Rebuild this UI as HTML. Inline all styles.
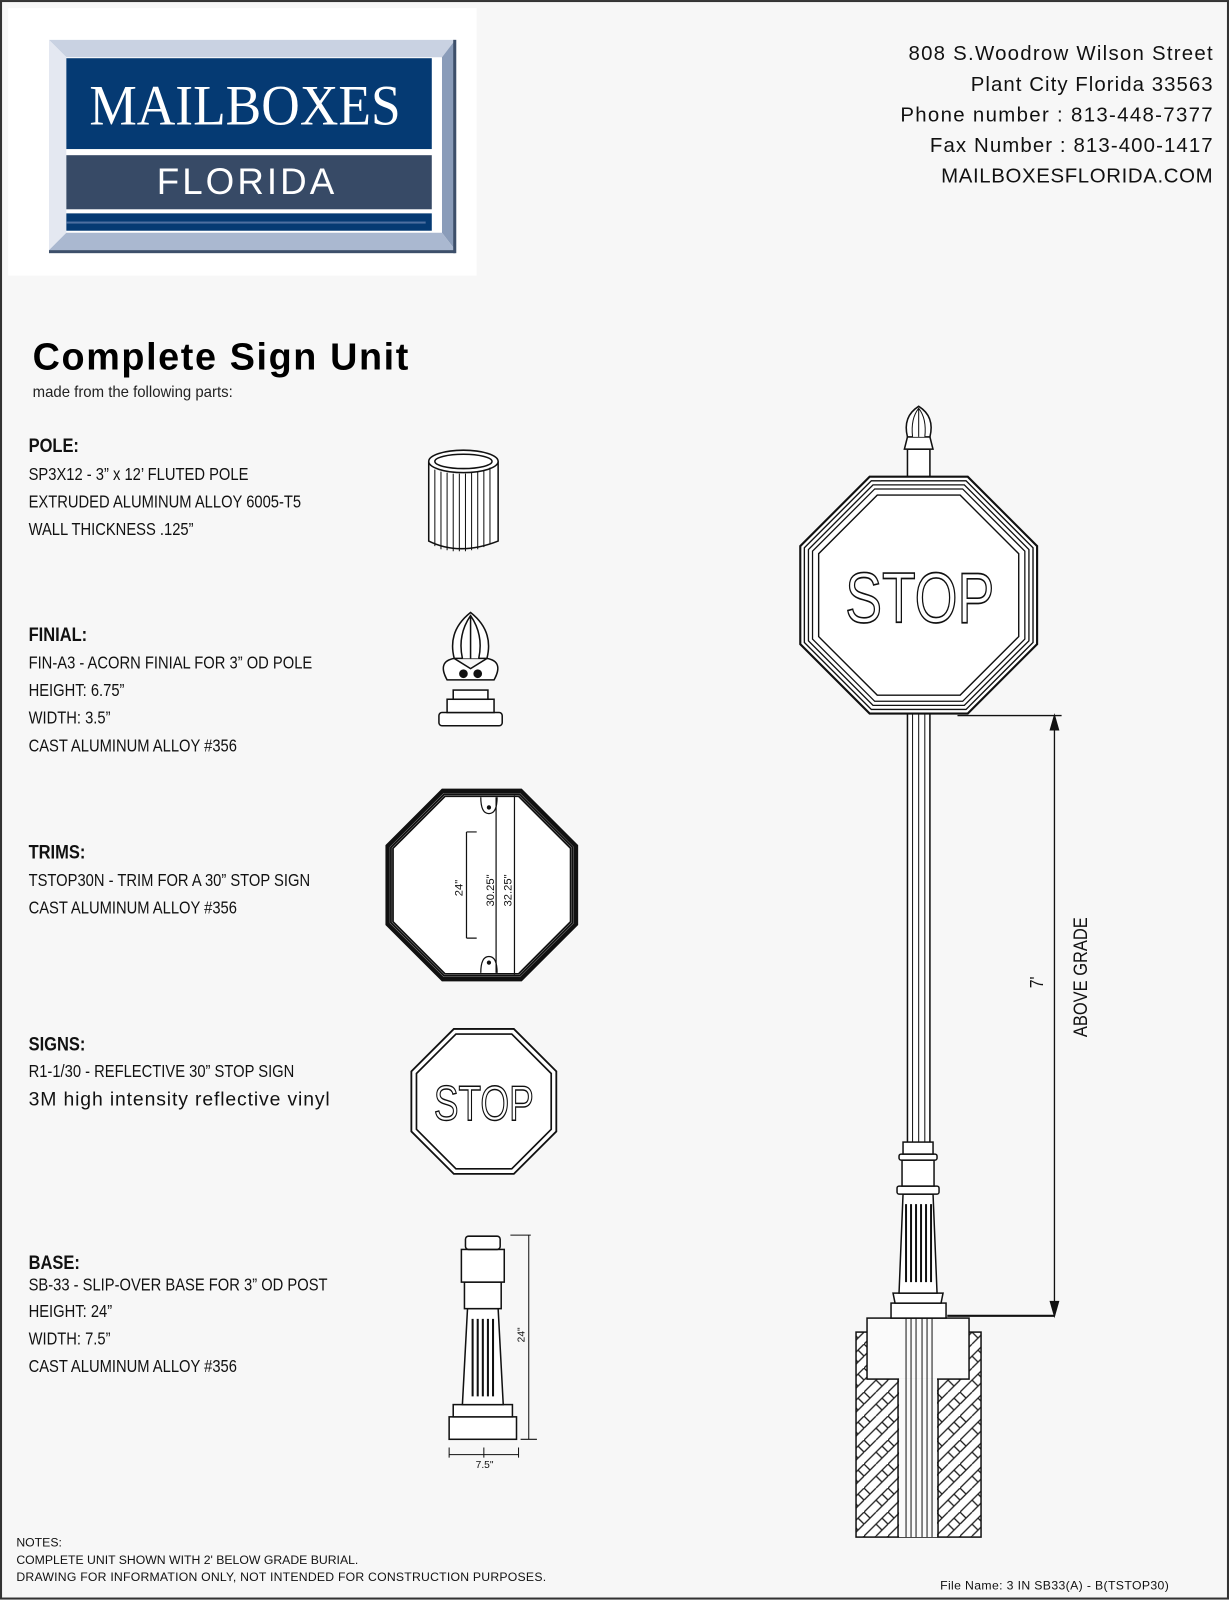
<!DOCTYPE html>
<html><head><meta charset="utf-8"><style>
body{margin:0;}
svg{display:block;}
</style></head><body>
<svg width="1229" height="1600" viewBox="0 0 1204 1567.4" xmlns="http://www.w3.org/2000/svg" font-family="Liberation Sans, sans-serif">
<defs>
<polygon id="oct" points="-0.4142,-1 0.4142,-1 1,-0.4142 1,0.4142 0.4142,1 -0.4142,1 -1,0.4142 -1,-0.4142"/>
<pattern id="hatch" width="24" height="24" patternUnits="userSpaceOnUse">
<rect width="24" height="24" fill="#fff"/>
<path d="M0 12 L12 0 M12 24 L24 12 M0 24 L12 12 M12 12 L24 0" stroke="#222" stroke-width="1.3"/>
<path d="M0 0 L6 6 M12 12 L18 18 M18 6 L24 12" stroke="#222" stroke-width="1.3"/>
</pattern>
</defs>
<rect x="0" y="0" width="1204" height="1568" fill="#f7f7f7"/>
<rect x="1" y="1" width="1202" height="1565" fill="none" stroke="#333" stroke-width="2"/>
<!-- logo -->
<rect x="8" y="8" width="459" height="262" fill="#fff"/>
<polygon points="48,39 446,39 433,56 65,56" fill="#c9d2e2"/>
<polygon points="48,39 65,56 65,228 48,245" fill="#e4e8f1"/>
<polygon points="446,39 446,245 433,228 433,56" fill="#8a9cb9"/>
<polygon points="48,245 446,245 433,228 65,228" fill="#aab8d0"/>
<rect x="48" y="245" width="398" height="3" fill="#3d4f6a"/>
<rect x="444" y="39" width="3" height="209" fill="#3d4f6a"/>
<rect x="65" y="57" width="358" height="89" fill="#053a73"/>
<rect x="65" y="152" width="358" height="53" fill="#374a66"/>
<rect x="65" y="209" width="358" height="17" fill="#053a73"/>
<rect x="65" y="217" width="352" height="2" fill="#4d6fa0"/>
<text x="240" y="122" font-size="56" fill="#fff" text-anchor="middle" style="font-family:'Liberation Serif',serif" textLength="305" lengthAdjust="spacingAndGlyphs">MAILBOXES</text>
<text x="242" y="190" font-size="36" fill="#fff" text-anchor="middle" letter-spacing="3" style="font-family:'Liberation Sans',sans-serif">FLORIDA</text>
<!-- address -->
<g font-size="20" fill="#111" text-anchor="end">
<text x="1188" y="59" textLength="298">808 S.Woodrow Wilson Street</text>
<text x="1188" y="89" textLength="237">Plant City Florida 33563</text>
<text x="1188" y="119" textLength="306">Phone number : 813-448-7377</text>
<text x="1188" y="149" textLength="277">Fax Number : 813-400-1417</text>
<text x="1188" y="179" textLength="266">MAILBOXESFLORIDA.COM</text>
</g>
<text x="32" y="362" font-size="37" font-weight="bold" fill="#000" textLength="368">Complete Sign Unit</text>
<text x="32" y="389" font-size="15" fill="#222" textLength="196" lengthAdjust="spacingAndGlyphs">made from the following parts:</text>
<g fill="#111" font-size="17" transform="translate(28,0) scale(0.85,1)">
<text x="0" y="443" font-weight="bold" font-size="19">POLE:</text>
<text x="0" y="470">SP3X12 - 3” x 12’ FLUTED POLE</text>
<text x="0" y="497">EXTRUDED ALUMINUM ALLOY 6005-T5</text>
<text x="0" y="524">WALL THICKNESS .125”</text>
<text x="0" y="628" font-weight="bold" font-size="19">FINIAL:</text>
<text x="0" y="655">FIN-A3 - ACORN FINIAL FOR 3” OD POLE</text>
<text x="0" y="682">HEIGHT: 6.75”</text>
<text x="0" y="709">WIDTH: 3.5”</text>
<text x="0" y="736">CAST ALUMINUM ALLOY #356</text>
<text x="0" y="841" font-weight="bold" font-size="19">TRIMS:</text>
<text x="0" y="868">TSTOP30N - TRIM FOR A 30” STOP SIGN</text>
<text x="0" y="895">CAST ALUMINUM ALLOY #356</text>
<text x="0" y="1029" font-weight="bold" font-size="19">SIGNS:</text>
<text x="0" y="1055">R1-1/30 - REFLECTIVE 30” STOP SIGN</text>
<text x="0" y="1264">SB-33 - SLIP-OVER BASE FOR  3” OD POST</text>
<text x="0" y="1243" font-weight="bold" font-size="19">BASE:</text>
<text x="0" y="1290">HEIGHT: 24”</text>
<text x="0" y="1317">WIDTH: 7.5”</text>
<text x="0" y="1344">CAST ALUMINUM ALLOY #356</text>
</g>
<text x="28" y="1083" font-size="19" fill="#111" textLength="295">3M high intensity reflective vinyl</text>
<g fill="#111" font-size="12">
<text x="16" y="1515">NOTES:</text>
<text x="16" y="1532">COMPLETE UNIT SHOWN WITH 2' BELOW GRADE BURIAL.</text>
<text x="16" y="1549" textLength="519">DRAWING FOR INFORMATION ONLY, NOT INTENDED FOR CONSTRUCTION PURPOSES.</text>
<text x="921" y="1557" textLength="224">File Name: 3 IN SB33(A) - B(TSTOP30)</text>
</g>
<!-- pole icon -->
<g stroke="#111" stroke-width="1.5" fill="#fff">
<path d="M420 452 L420 530 Q450 545 488 530 L488 452"/>
<ellipse cx="454" cy="452" rx="34" ry="11"/>
<ellipse cx="454" cy="452" rx="28" ry="7"/>
<path d="M426 460V535M432 462V538M438 463V539M444 464V540M450 464V540M456 464V540M462 463V539M468 462V538M474 461V536M480 458V533" stroke-width="1"/>
</g>
<!-- finial icon -->
<g stroke="#111" stroke-width="1.5" fill="#fff">
<rect x="430" y="698" width="62" height="13" rx="3"/>
<rect x="438" y="685" width="46" height="13"/>
<rect x="444" y="676" width="34" height="9"/>
<path d="M438 666 Q428 648 445 645 L461 655 L477 645 Q494 648 484 666 Z"/>
<path d="M445 645 Q438 618 461 600 Q484 618 477 645 Z"/>
<path d="M453 645 Q448 622 461 603 Q474 622 469 645 M461 603 V645"/>
<circle cx="454" cy="660" r="3.5" fill="#111"/><circle cx="468" cy="660" r="3.5" fill="#111"/>
</g>
<!-- trim -->
<g fill="none" stroke="#111">
<use href="#oct" transform="translate(472,867) scale(93)" stroke-width="0.03" fill="#fff"/>
<use href="#oct" transform="translate(472,867) scale(91)" stroke-width="0.02"/>
<use href="#oct" transform="translate(472,867) scale(89)" stroke-width="0.02"/>
<use href="#oct" transform="translate(472,867) scale(87)" stroke-width="0.02"/>
</g>
<g stroke="#111" stroke-width="1.2" fill="none">
<path d="M471 781 Q471 797 479 797 Q487 797 487 781"/>
<path d="M471 953 Q471 937 479 937 Q487 937 487 953"/>
<path d="M457 815H467M457 919H467M457 815V919M486 781V953M504 779V955"/>
<circle cx="479" cy="791" r="1.5" fill="#111"/><circle cx="479" cy="943" r="1.5" fill="#111"/>
</g>
<g font-size="11" fill="#111">
<text transform="translate(453,878) rotate(-90)">24"</text>
<text transform="translate(484,888) rotate(-90)">30.25"</text>
<text transform="translate(501,888) rotate(-90)">32.25"</text>
</g>
<!-- small stop -->
<g fill="none" stroke="#111">
<use href="#oct" transform="translate(474,1079) scale(71)" stroke-width="0.025" fill="#fff"/>
<use href="#oct" transform="translate(474,1079) scale(66)" stroke-width="0.025"/>
</g>
<text x="474" y="1097" font-size="48" text-anchor="middle" fill="#fff" stroke="#111" stroke-width="1.4" textLength="98" lengthAdjust="spacingAndGlyphs">STOP</text>
<!-- base icon -->
<g stroke="#111" stroke-width="1.5" fill="#fff">
<rect x="440" y="1388" width="66" height="22"/>
<rect x="444" y="1376" width="58" height="12"/>
<path d="M453 1376 L458 1282 H488 L493 1376 Z"/>
<rect x="455" y="1256" width="36" height="26"/>
<rect x="452" y="1224" width="42" height="32"/>
<rect x="456" y="1211" width="34" height="13" rx="3"/>
<path d="M463 1292V1368M468 1292V1368M473 1292V1368M478 1292V1368M483 1292V1368" stroke-width="2"/>
<path d="M500 1210H520M518 1210V1410M510 1410H526M474 1418V1428M440 1418V1428M508 1418V1428M440 1425H508" stroke-width="1" fill="none"/>
</g>
<text transform="translate(514,1315) rotate(-90)" font-size="10" fill="#111">24"</text>
<text x="466" y="1438" font-size="10" fill="#111">7.5"</text>
<!-- main assembly -->
<g stroke="#111" stroke-width="1.5" fill="#fff">
<rect x="889" y="440" width="22" height="30"/>
<path d="M886 440 L914 440 L911 428 L889 428 Z"/>
<path d="M889 428 Q884 408 900 398 Q916 408 911 428 Z"/>
<path d="M894 428 Q892 410 900 400 Q908 410 906 428 M900 400V428" stroke-width="1"/>
<rect x="889" y="696" width="22" height="440"/>
<path d="M894 696V1136M900 696V1136M906 696V1136" stroke-width="1"/>
</g>
<g fill="none" stroke="#111">
<use href="#oct" transform="translate(900,583) scale(116)" stroke-width="0.018" fill="#fff"/>
<use href="#oct" transform="translate(900,583) scale(112)" stroke-width="0.012"/>
<use href="#oct" transform="translate(900,583) scale(108)" stroke-width="0.012"/>
<use href="#oct" transform="translate(900,583) scale(104)" stroke-width="0.012"/>
<use href="#oct" transform="translate(900,583) scale(98)" stroke-width="0.014"/>
</g>
<text x="901" y="610" font-size="70" text-anchor="middle" fill="#fff" stroke="#111" stroke-width="1.6" textLength="146" lengthAdjust="spacingAndGlyphs">STOP</text>
<!-- main base (original-pixel coords) -->
<g transform="scale(0.9797)">
<g stroke="#111" stroke-width="1.5" fill="#fff">
<rect x="856" y="1332" width="125" height="205" fill="url(#hatch)"/>
<rect x="867" y="1318" width="102" height="61" fill="#fafafa"/>
<rect x="899" y="1378" width="38" height="159" fill="#fafafa" stroke="none"/>
<path d="M898 1379V1537M938 1379V1537"/>
<path d="M906 1318V1537M911 1318V1537M916 1318V1537M922 1318V1537M927 1318V1537M932 1318V1537" stroke-width="1"/>
<rect x="891" y="1303" width="55" height="15"/>
<path d="M895 1303 L893 1293 H943 L941 1303 Z"/>
<path d="M899 1293 L903 1194 H933 L937 1293 Z"/>
<path d="M906 1204V1282M911 1204V1282M916 1204V1282M921 1204V1282M926 1204V1282M931 1204V1282" stroke-width="2"/>
<rect x="897" y="1186" width="42" height="8" rx="2"/>
<rect x="902" y="1160" width="32" height="26"/>
<rect x="899" y="1154" width="38" height="6" rx="2"/>
<rect x="903" y="1142" width="30" height="12"/>
</g>
</g>
<!-- dimension -->
<g stroke="#111" stroke-width="1.3" fill="#111">
<path d="M938 701H1040M1033 701V1289" fill="none"/>
<path d="M1033 701 L1029 715 L1037 715 Z"/>
<path d="M1033 1289 L1029 1275 L1037 1275 Z"/>
<path d="M928 1289 H1033" stroke-width="2"/>
</g>
<g transform="translate(1022,968) rotate(-90) scale(0.85,1)"><text font-size="18" fill="#111">7'</text></g>
<g transform="translate(1065,1016) rotate(-90) scale(0.85,1)"><text font-size="19" fill="#111">ABOVE GRADE</text></g>
</svg>
</body></html>
